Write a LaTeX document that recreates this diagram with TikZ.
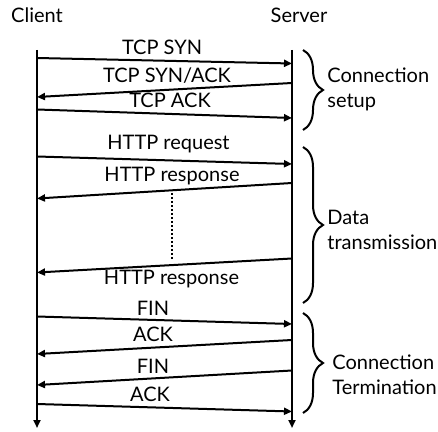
\documentclass[tikz,border=0pt]{standalone}
\usepackage{fontspec}
\setmainfont{Lato}
\usepackage{tikz}
\usetikzlibrary{arrows.meta}
\usetikzlibrary{decorations.pathreplacing}

\begin{document}
\begin{tikzpicture}[x=0.5pt, y=-0.5pt,
    font=\fontsize{10}{12.5}\selectfont,
    lifeline/.style={line width=1.25pt, -{Triangle[length=4pt, width=3.5pt]}},
    msg/.style={line width=1pt, -{Triangle[length=4pt, width=3.5pt]}},
    lbl/.style={anchor=base, inner sep=0pt},
    grp/.style={line width=1pt, decorate, decoration={brace, amplitude=10pt}},
    grplbl/.style={anchor=west, align=left, inner sep=0pt}]
\useasboundingbox (0,0) rectangle (438,432);

% lifelines
\node[lbl] (client) at ( 37, 22.5) {Client};
\node[lbl] (server) at (299, 22.5) {Server};
\coordinate (cT) at ( 37, 50);
\coordinate (cB) at ( 37, 428);
\coordinate (sT) at (292, 50);
\coordinate (sB) at (292, 428);
\draw[lifeline] (cT) -- (cB);
\draw[lifeline] (sT) -- (sB);

% end points of the messages
\foreach \n/\cy/\sy in {1/58/63.5, 2/97/83, 3/109.5/118, 4/156.5/164, 5/198.5/183,
                        6/272.5/258.5, 7/316.5/324, 8/354/340, 9/385/370.5, 10/404/411.5} {
    \coordinate (c\n) at ( 37, \cy);
    \coordinate (s\n) at (292, \sy);
}

% messages
\draw[msg] (c1)  -- (s1);
\draw[msg] (s2)  -- (c2);
\draw[msg] (c3)  -- (s3);
\draw[msg] (c4)  -- (s4);
\draw[msg] (s5)  -- (c5);
\draw[msg] (s6)  -- (c6);
\draw[msg] (c7)  -- (s7);
\draw[msg] (s8)  -- (c8);
\draw[msg] (s9)  -- (c9);
\draw[msg] (c10) -- (s10);

\node[lbl] (syn)     at (162,   55) {TCP SYN};
\node[lbl] (synack)  at (167,   83) {TCP SYN/ACK};
\node[lbl] (ack)     at (170,  108) {TCP ACK};
\node[lbl] (req)     at (168.5, 150) {HTTP request};
\node[lbl] (resp)    at (172,  182) {HTTP response};
\node[lbl] (resplast) at (171.5, 285) {HTTP response};
\node[lbl] (fin)     at (153,  315) {FIN};
\node[lbl] (finack)  at (153,  341.5) {ACK};
\node[lbl] (fintwo)  at (153,  373) {FIN};
\node[lbl] (lastack) at (150,  401.5) {ACK};

% more responses
\coordinate (d1) at (171.7, 193);
\coordinate (d2) at (171.7, 260);
\draw[line width=0.9pt, dash pattern=on 1pt off 1pt] (d1) -- (d2);

% phases
\draw[grp] (303,  50) -- (303, 130);
\draw[grp] (303, 147) -- (303, 303);
\draw[grp] (303, 313) -- (303, 413);
\node[grplbl] (setup) at (327,  89.5) {Connection\\setup};
\node[grplbl] (data)  at (327, 230)   {Data\\transmission};
\node[grplbl] (term)  at (332, 374.5) {Connection\\Termination};
\end{tikzpicture}
\end{document}
